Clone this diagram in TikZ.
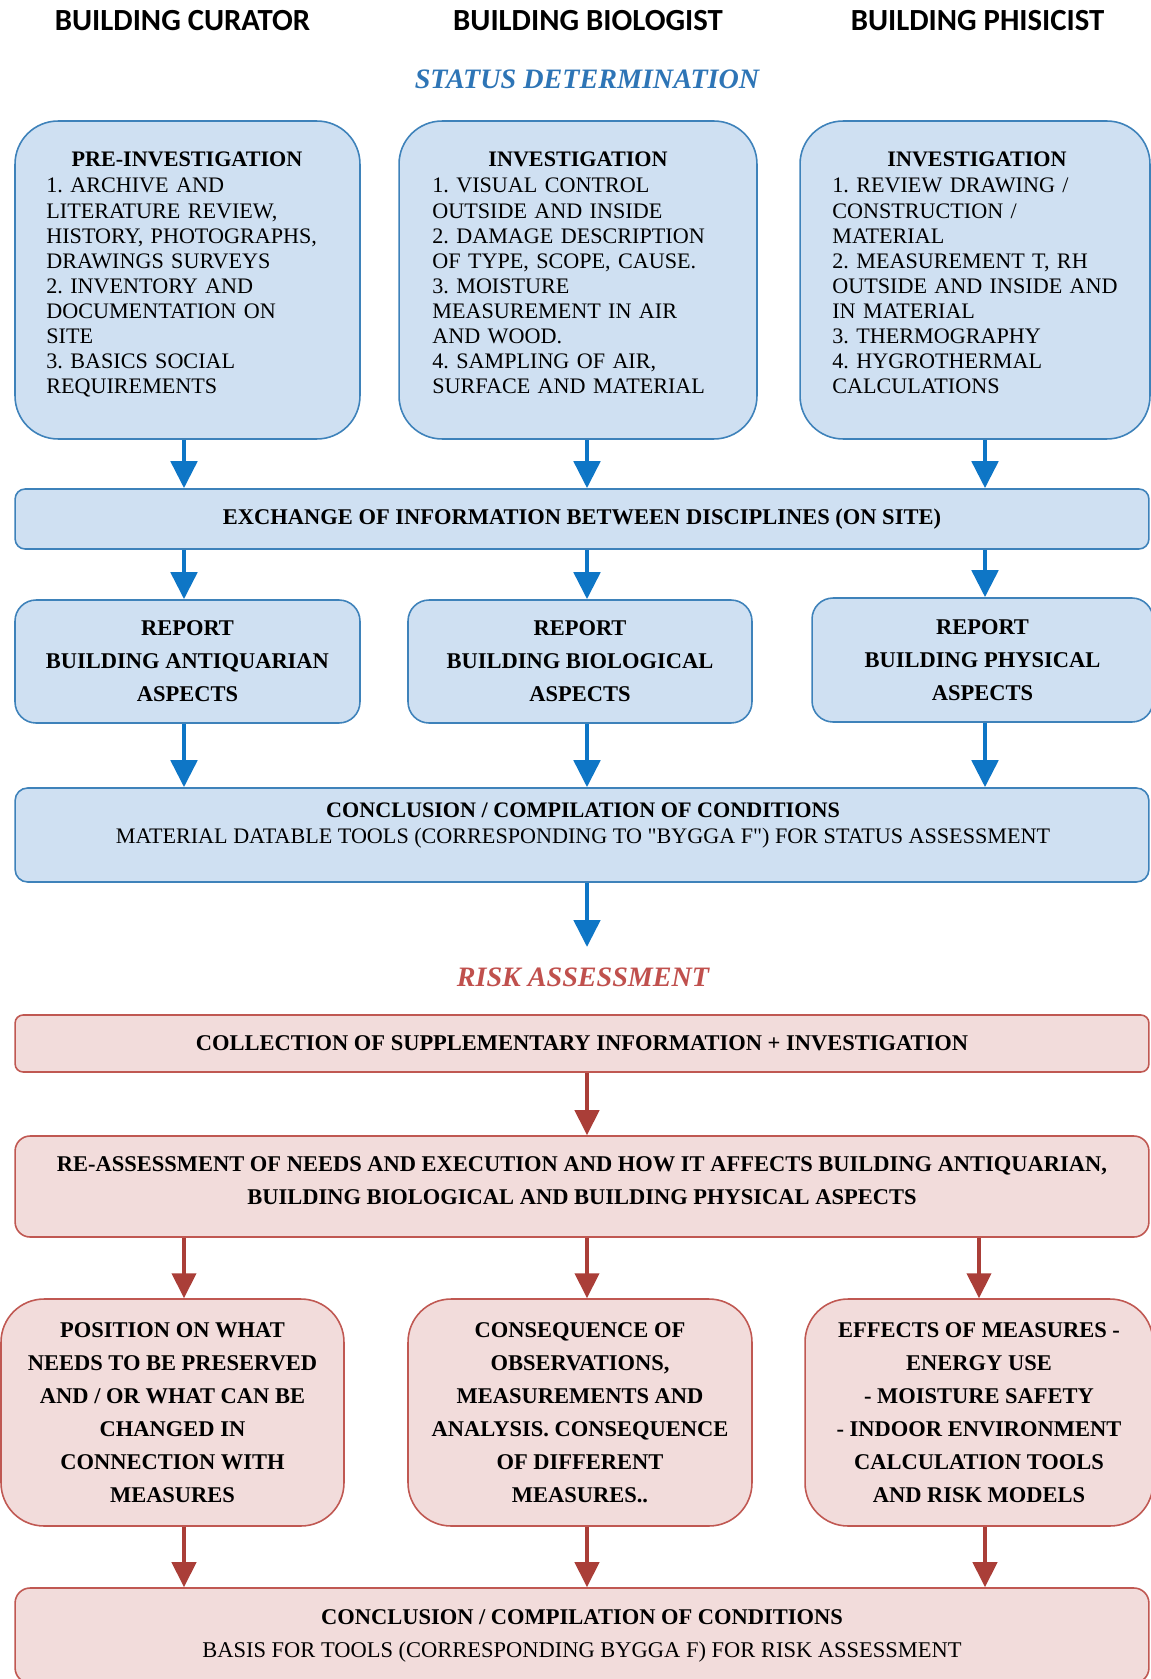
\documentclass[tikz,border=0pt]{standalone}
\usepackage{fontspec}
\setmainfont{Liberation Serif}[Ligatures=TeXOff]
\newfontfamily\headfont{Carlito}
\usetikzlibrary{arrows.meta}
\frenchspacing

\definecolor{fillblue}{RGB}{207,224,242}
\definecolor{edgeblue}{RGB}{62,130,186}
\definecolor{arrowblue}{RGB}{14,118,198}
\definecolor{titleblue}{RGB}{46,117,182}
\definecolor{fillred}{RGB}{242,220,219}
\definecolor{edgered}{RGB}{192,88,82}
\definecolor{arrowred}{RGB}{170,62,56}
\definecolor{titlered}{RGB}{192,80,77}

\begin{document}
\begin{tikzpicture}[x=0.02cm, y=-0.02cm,
  bluebox/.style={draw=edgeblue, fill=fillblue, line width=0.9pt, inner sep=0pt},
  redbox/.style={draw=edgered, fill=fillred, line width=0.9pt, inner sep=0pt},
  bluearrow/.style={color=arrowblue, line width=2.8pt,
    every edge/.append style={-{Triangle[length=0.54cm, width=0.52cm]}}},
  redarrow/.style={color=arrowred, line width=2.4pt,
    every edge/.append style={-{Triangle[length=0.5cm, width=0.48cm]}}},
  discipline/.style={font=\headfont\fontsize{17.5}{20}\selectfont\bfseries},
  phase/.style={font=\fontsize{16}{18}\selectfont\bfseries\itshape},
  listhead/.style={font=\fontsize{12.6}{14.3}\selectfont\bfseries, anchor=base, inner sep=0pt},
  listtext/.style={font=\fontsize{12.6}{14.3}\selectfont, align=left, text width=6.2cm,
    anchor=base west, inner sep=0pt},
  boldtext/.style={font=\fontsize{12.8}{18.8}\selectfont\bfseries, align=center},
]
\path[use as bounding box, fill=white] (0,0) rectangle (1151,1679);

% columns of the arrows
\coordinate (left) at (184,0);
\coordinate (mid) at (587,0);
\coordinate (right) at (985,0);

\node[discipline] at (182.5,21)
(curator) {BUILDING CURATOR};
\node[discipline] at (588,21)
(biologist) {BUILDING BIOLOGIST};
\node[discipline] at (977.5,21)
(physicist) {BUILDING PHISICIST};

\node[phase, text=titleblue] at (587,79)
(status) {STATUS DETERMINATION};

% investigation boxes
\node[bluebox, rounded corners=0.86cm, minimum width=6.9cm, minimum height=6.36cm] at (187.5,280)
(pre) {};
\node[bluebox, rounded corners=0.86cm, minimum width=7.16cm, minimum height=6.36cm] at (578,280)
(inv) {};
\node[bluebox, rounded corners=0.86cm, minimum width=7.0cm, minimum height=6.36cm] at (975,280)
(phys) {};

\node[listhead] at (187,167)
(prehead) {PRE-INVESTIGATION};
\node[listtext] at (46,193)
(prelist) {1. ARCHIVE AND\\ LITERATURE REVIEW,\\ HISTORY, PHOTOGRAPHS,\\ DRAWINGS SURVEYS\\
  2. INVENTORY AND\\ DOCUMENTATION ON\\ SITE\\ 3. BASICS SOCIAL\\ REQUIREMENTS};

\node[listhead] at (578,167)
(invhead) {INVESTIGATION};
\node[listtext] at (432,193)
(invlist) {1. VISUAL CONTROL\\ OUTSIDE AND INSIDE\\ 2. DAMAGE DESCRIPTION\\ OF TYPE, SCOPE, CAUSE.\\
  3. MOISTURE\\ MEASUREMENT IN AIR\\ AND WOOD.\\ 4. SAMPLING OF AIR,\\ SURFACE AND MATERIAL};

\node[listhead] at (977,167)
(physhead) {INVESTIGATION};
\node[listtext] at (832,193)
(physlist) {1. REVIEW DRAWING /\\ CONSTRUCTION /\\ MATERIAL\\ 2. MEASUREMENT T, RH\\
  OUTSIDE AND INSIDE AND\\ IN MATERIAL\\ 3. THERMOGRAPHY\\ 4. HYGROTHERMAL\\ CALCULATIONS};

\node[bluebox, rounded corners=0.2cm, minimum width=22.68cm, minimum height=1.2cm, boldtext] at (582,519)
(exch) {EXCHANGE OF INFORMATION BETWEEN DISCIPLINES (ON SITE)};

% reports
\node[bluebox, rounded corners=0.42cm, minimum width=6.9cm, minimum height=2.46cm, boldtext] at (187.5,661.5)
(antiq) {REPORT\\ BUILDING ANTIQUARIAN\\ ASPECTS};
\node[bluebox, rounded corners=0.42cm, minimum width=6.88cm, minimum height=2.46cm, boldtext] at (580,661.5)
(biol) {REPORT\\ BUILDING BIOLOGICAL\\ ASPECTS};
\node[bluebox, rounded corners=0.42cm, minimum width=6.82cm, minimum height=2.48cm, boldtext] at (982.5,660)
(physrep) {REPORT\\ BUILDING PHYSICAL\\ ASPECTS};

\node[bluebox, rounded corners=0.25cm, minimum width=22.68cm, minimum height=1.88cm] at (582,835)
(concl) {};
\node[font=\fontsize{12.6}{14.8}\selectfont, align=center] at (583,826)
(concltext) {\textbf{CONCLUSION / COMPILATION OF CONDITIONS}\\
  MATERIAL DATABLE TOOLS (CORRESPONDING TO "BYGGA F") FOR STATUS ASSESSMENT};

\coordinate (torisk) at (587,947);

\node[phase, text=titlered] at (583,977)
(risk) {RISK ASSESSMENT};

% risk assessment
\node[redbox, rounded corners=0.16cm, minimum width=22.68cm, minimum height=1.14cm, boldtext] at (582,1043.5)
(collect) {COLLECTION OF SUPPLEMENTARY INFORMATION + INVESTIGATION};

\node[redbox, rounded corners=0.3cm, minimum width=22.68cm, minimum height=2.02cm, boldtext] at (582,1186.5)
(reassess) {RE-ASSESSMENT OF NEEDS AND EXECUTION AND HOW IT AFFECTS BUILDING ANTIQUARIAN,\\
  BUILDING BIOLOGICAL AND BUILDING PHYSICAL ASPECTS\\[-0.44cm]};

\node[redbox, rounded corners=0.86cm, minimum width=6.86cm, minimum height=4.54cm, boldtext] at (172.5,1412.5)
(position) {POSITION ON WHAT\\ NEEDS TO BE PRESERVED\\ AND / OR WHAT CAN BE\\ CHANGED IN\\
  CONNECTION WITH\\ MEASURES};
\node[redbox, rounded corners=0.86cm, minimum width=6.88cm, minimum height=4.54cm, boldtext] at (580,1412.5)
(conseq) {CONSEQUENCE OF\\ OBSERVATIONS,\\ MEASUREMENTS AND\\ ANALYSIS. CONSEQUENCE\\
  OF DIFFERENT\\ MEASURES..};
\node[redbox, rounded corners=0.86cm, minimum width=6.96cm, minimum height=4.54cm, boldtext] at (979,1412.5)
(effects) {EFFECTS OF MEASURES -\\ ENERGY USE\\ - MOISTURE SAFETY\\ - INDOOR ENVIRONMENT\\
  CALCULATION TOOLS\\ AND RISK MODELS};

\node[redbox, rounded corners=0.3cm, minimum width=22.68cm, minimum height=1.9cm, boldtext] at (582,1635.5)
(final) {CONCLUSION / COMPILATION OF CONDITIONS\\
  \mdseries BASIS FOR TOOLS (CORRESPONDING BYGGA F) FOR RISK ASSESSMENT};

\draw[bluearrow]
  (pre.south -| left) edge (exch.north -| left)
  (inv.south -| mid) edge (exch.north -| mid)
  (phys.south -| right) edge (exch.north -| right)
  (exch.south -| left) edge (antiq.north -| left)
  (exch.south -| mid) edge (biol.north -| mid)
  (exch.south -| right) edge (physrep.north -| right)
  (antiq.south -| left) edge (concl.north -| left)
  (biol.south -| mid) edge (concl.north -| mid)
  (physrep.south -| right) edge (concl.north -| right)
  (concl.south -| mid) edge (torisk)
;
\draw[redarrow]
  (collect.south -| mid) edge (reassess.north -| mid)
  (reassess.south -| left) edge (position.north -| left)
  (reassess.south -| mid) edge (conseq.north -| mid)
  (reassess.south -| effects.north) edge (effects.north)
  (position.south -| left) edge (final.north -| left)
  (conseq.south -| mid) edge (final.north -| mid)
  (effects.south -| right) edge (final.north -| right)
;
\end{tikzpicture}
\end{document}
